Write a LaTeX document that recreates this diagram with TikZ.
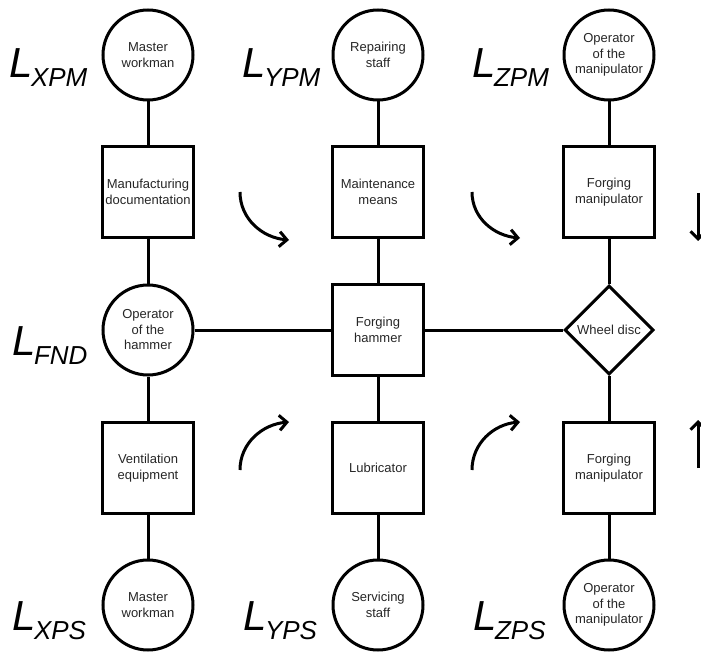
\documentclass[tikz,border=0pt]{standalone}
\usepackage{fontspec}
\setmainfont{Liberation Sans}
\usetikzlibrary{shapes.geometric,arrows.meta}
\newcommand\Lsym[1]{{\fontsize{42}{42}\selectfont\itshape L}\kern-1.5pt\raisebox{-9pt}{\fontsize{26}{26}\selectfont\itshape #1}}
\begin{document}
\begin{tikzpicture}[x=1pt,y=1pt,
 every node/.style={font=\fontsize{13}{15.5}\selectfont, align=center, text=black!85},
 person/.style={circle, draw=black, line width=3pt, minimum size=90pt, inner sep=0pt},
 thing/.style={rectangle, draw=black, line width=3pt, minimum width=90.5pt, minimum height=91pt, inner sep=0pt},
 object/.style={diamond, draw=black, line width=3pt, minimum width=89pt, minimum height=89pt, inner sep=0pt, aspect=1},
 link/.style={line width=3pt},
 flow/.style={line width=3pt, -{Straight Barb[length=7.5pt,width=15pt]}},
 lab/.style={anchor=base west, inner sep=0pt, text=black}]
\useasboundingbox (0,0) rectangle (701,-652);
\clip (0,0) rectangle (701,-652);
% people and things
\node[person] (xpm) at (148,-55) {Master\\workman};
\node[person] (ypm) at (378,-55) {Repairing\\staff};
\node[person] (zpm) at (609,-55) {Operator\\of the\\manipulator};
\node[thing] (xd) at (148,-192) {Manufacturing\\documentation};
\node[thing] (ym) at (378,-192) {Maintenance\\means};
\node[thing] (zm) at (609,-192) {Forging\\manipulator};
\node[person] (oh) at (148,-330) {Operator\\of the\\hammer};
\node[thing] (fh) at (378,-330) {Forging\\hammer};
\node[object] (wd) at (609,-330) {Wheel disc};
\node[thing] (ve) at (148,-468) {Ventilation\\equipment};
\node[thing] (lu) at (378,-468) {Lubricator};
\node[thing] (zs) at (609,-468) {Forging\\manipulator};
\node[person] (xps) at (148,-605) {Master\\workman};
\node[person] (yps) at (378,-605) {Servicing\\staff};
\node[person] (zps) at (609,-605) {Operator\\of the\\manipulator};
% links
\draw[link] (xpm) -- (xd);
\draw[link] (xd) -- (oh);
\draw[link] (oh) -- (ve);
\draw[link] (ve) -- (xps);
\draw[link] (ypm) -- (ym);
\draw[link] (ym) -- (fh);
\draw[link] (fh) -- (lu);
\draw[link] (lu) -- (yps);
\draw[link] (zpm) -- (zm);
\draw[link] (zm) -- (wd);
\draw[link] (wd) -- (zs);
\draw[link] (zs) -- (zps);
\draw[link] (oh) -- (fh);
\draw[link] (fh) -- (wd);
% labels
\node[lab] (lxpm) at (9,-78) {\Lsym{XPM}};
\node[lab] (lypm) at (242,-78) {\Lsym{YPM}};
\node[lab] (lzpm) at (472,-78) {\Lsym{ZPM}};
\node[lab] (lfnd) at (12,-355) {\Lsym{FND}};
\node[lab] (lxps) at (12,-630) {\Lsym{XPS}};
\node[lab] (lyps) at (243,-630) {\Lsym{YPS}};
\node[lab] (lzps) at (473,-630) {\Lsym{ZPS}};
% flow arrows
\coordinate (a1s) at (240,-192); \coordinate (a1e) at (289,-240);
\coordinate (a2s) at (472,-192); \coordinate (a2e) at (520,-238);
\coordinate (a3s) at (240,-470); \coordinate (a3e) at (289,-422);
\coordinate (a4s) at (472,-470); \coordinate (a4e) at (520,-422);
\coordinate (a5s) at (698,-193); \coordinate (a5e) at (698,-241);
\coordinate (a6s) at (698,-468); \coordinate (a6e) at (698,-420);
\draw[flow] (a1s) to[out=-90,in=175] (a1e);
\draw[flow] (a2s) to[out=-90,in=175] (a2e);
\draw[flow] (a3s) to[out=90,in=185] (a3e);
\draw[flow] (a4s) to[out=90,in=185] (a4e);
\draw[flow] (a5s) -- (a5e);
\draw[flow] (a6s) -- (a6e);
\end{tikzpicture}
\end{document}
